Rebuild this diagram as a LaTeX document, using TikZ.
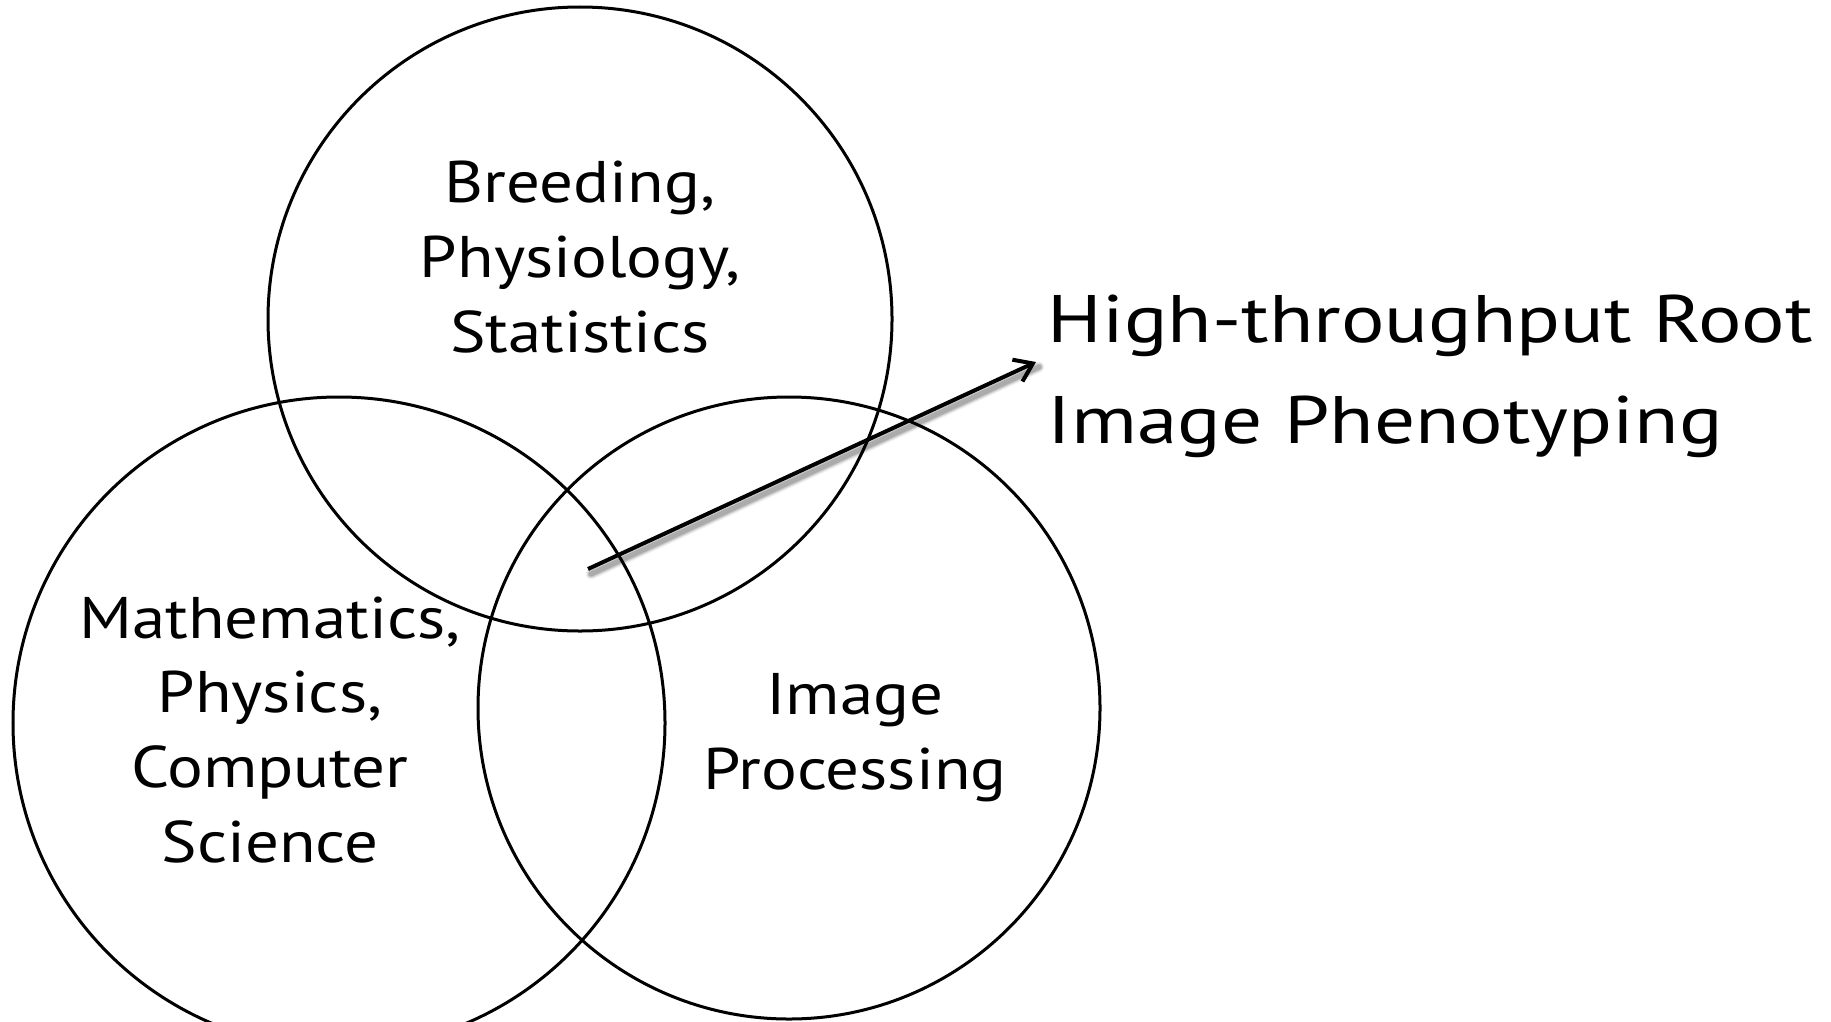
\documentclass[tikz,border=0pt]{standalone}
\usepackage{fontspec}
\setmainfont{PT Sans}[FakeStretch=1.14]
\newfontfamily\bigfont{PT Sans}[FakeStretch=1.21]
\usetikzlibrary{arrows.meta,calc}
\tikzset{
  venn/.style={draw=black, line width=0.03cm},
  inlabel/.style={align=center, inner sep=0pt, font={\fontsize{16.7pt}{21.3pt}\selectfont}},
  biglabel/.style={align=left, inner sep=0pt, anchor=west, font={\bigfont\fontsize{19.1pt}{28.7pt}\selectfont}},
  pointer/.style={line width=0.04cm, -{Straight Barb[length=0.17cm,width=0.24cm]}},
  pshadow/.style={line width=#1, line cap=round, black}
}
\begin{document}
\begin{tikzpicture}[x=0.01cm,y=-0.01cm]
\useasboundingbox (0,0) rectangle (1831,1021);
\fill[white] (0,0) rectangle (1831,1021);
\begin{scope}
\clip (0,0) rectangle (1831,1021);
\draw[venn] (580,319) circle[radius=312];
\draw[venn] (339,723) circle[radius=326];
\draw[venn] (789,708) circle[radius=311];
\end{scope}
\node[inlabel] (bio) at (580,257) {Breeding,\\Physiology,\\Statistics};
\node[inlabel] (math) at (270,730) {Mathematics,\\Physics,\\Computer\\Science};
\node[inlabel] (img) at (855,738) {Image\\Processing};
\node[biglabel] (htp) at (1047,376) {High-throughput Root\\Image Phenotyping};
\coordinate (arrowstart) at (588,569);
\coordinate (arrowend) at (1036,362);
\foreach \w/\o in {0.11cm/0.05,0.09cm/0.07,0.07cm/0.1,0.05cm/0.15}{
  \draw[pshadow=\w, opacity=\o] ($(arrowstart)+(3,5)$) -- ($(arrowend)+(3,5)$);
}
\draw[pointer] (arrowstart) -- (arrowend);
\end{tikzpicture}
\end{document}
